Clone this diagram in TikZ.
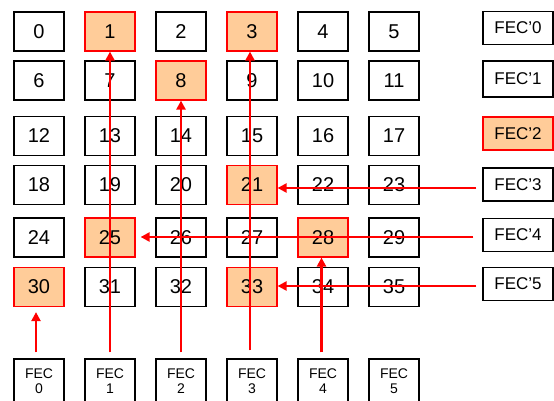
\documentclass[tikz,border=0pt]{standalone}
\usepackage{fontspec}
\setmainfont{Liberation Sans}
\usetikzlibrary{arrows.meta}
\definecolor{hl}{RGB}{255,204,153}
\begin{document}
\begin{tikzpicture}[x=1pt,y=-1pt,
 cell/.style={draw=black,line width=1.3pt,minimum width=50pt,minimum height=39pt,inner sep=0pt,font=\fontsize{20}{24}\selectfont},
 hot/.style={fill=hl,draw=red,line width=1.2pt},
 fecr/.style={draw=black,line width=1.3pt,minimum width=70pt,minimum height=33pt,inner sep=0pt,font=\fontsize{17}{20}\selectfont},
 fecb/.style={draw=black,line width=1.3pt,minimum width=50pt,minimum height=44pt,inner sep=0pt,align=center,font=\fontsize{14}{15.5}\selectfont},
 link/.style={red,line width=2.4pt,-{Triangle[length=9pt,width=9pt]}}]
\useasboundingbox (0,0) rectangle (554,401);
\clip (0,0) rectangle (554,401);
% grid cells
\foreach \r/\y in {0/31.5,1/80.5,2/136,3/185,4/237.5,5/287}{
  \foreach \c in {0,...,5}{
    \pgfmathtruncatemacro\n{6*\r+\c}
    \node[cell] (c\n) at (39+71*\c,\y) {\n};
  }
}
% highlighted cells
\foreach \n/\x/\y in {1/110/31.5,3/252/31.5,8/181/80.5,21/252/185,25/110/237.5,28/323/237.5,30/39/287,33/252/287}{
  \node[cell,hot] (c\n) at (\x,\y) {\n};
}
% right FEC' boxes
\node[fecr] (r0) at (518,28) {FEC’0};
\node[fecr,minimum height=36pt] (r1) at (518,79) {FEC’1};
\node[fecr,fill=hl,draw=red,line width=1.2pt] (r2) at (518,133.5) {FEC’2};
\node[fecr] (r3) at (518,184.5) {FEC’3};
\node[fecr] (r4) at (518,235) {FEC’4};
\node[fecr] (r5) at (518,284) {FEC’5};
% bottom FEC boxes
\foreach \c in {0,...,5}{
  \node[fecb] (b\c) at (39+71*\c,381) {FEC\\\c};
}
% arrows
\draw[link,shorten <=6pt,shorten >=5pt] ([xshift=-3pt]b0.north) -- ([xshift=-3pt]c30.south);
\draw[link,shorten <=6pt] (b1.north) -- (c1.south);
\draw[link,shorten <=6pt] (b2.north) -- (c8.south);
\draw[link,shorten <=8pt] ([xshift=-2pt]b3.north) -- ([xshift=-2pt]c3.south);
\draw[link,shorten <=6pt] ([xshift=-1.5pt]b4.north) -- ([xshift=-1.5pt]c28.south);
\draw[link,shorten <=6pt] ([yshift=-3.5pt]r3.west) -- ([yshift=-3.5pt]r3.west -| c21.east);
\draw[link,shorten <=9pt,shorten >=5pt] ([yshift=-2pt]r4.west) -- ([yshift=-2pt]r4.west -| c25.east);
\draw[link,shorten <=6pt] ([yshift=-2pt]r5.west) -- ([yshift=-2pt]r5.west -| c33.east);
\end{tikzpicture}
\end{document}
